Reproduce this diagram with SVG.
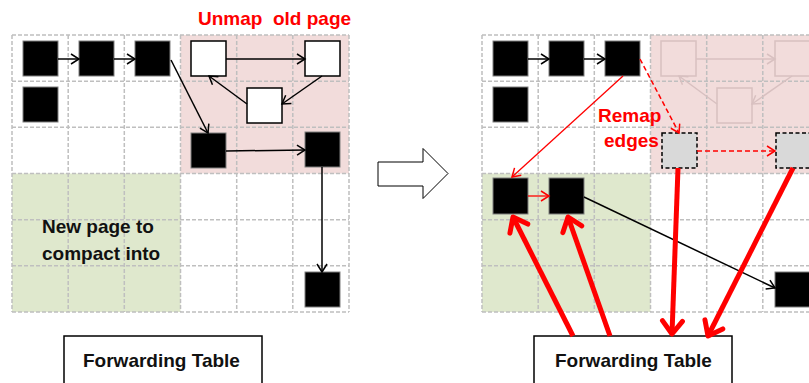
<svg xmlns="http://www.w3.org/2000/svg" width="809" height="383" viewBox="0 0 809 383">
<defs>
<style>
.grid{stroke:#bfbfbf;stroke-width:1.5;stroke-dasharray:4 2;fill:none}
.blk{fill:#000;stroke:#7f7f7f;stroke-width:1}
.wht{fill:#fff;stroke:#000;stroke-width:1.5}
.fad{fill:none;stroke:#d8c0c0;stroke-width:1.5}
.gry{fill:#d9d9d9;stroke:#000;stroke-width:1.5;stroke-dasharray:4 2.5}
.tbl{fill:#fff;stroke:#000;stroke-width:1.5}
.e{fill:none;stroke:#000;stroke-width:1.5}
.ef{fill:none;stroke:#d8c0c0;stroke-width:1.5}
.er{fill:none;stroke:#ff0000;stroke-width:1.3}
.ed{fill:none;stroke:#ff0000;stroke-width:1.5;stroke-dasharray:5 3}
.et{fill:none;stroke:#ff0000;stroke-width:5}
text{font-family:"Liberation Sans",Arial,sans-serif;font-weight:bold;font-size:19px}
.red{fill:#ff0000}
.dk{fill:#111}
</style>
<marker id="ab" markerUnits="userSpaceOnUse" markerWidth="14" markerHeight="14" refX="9" refY="6" orient="auto"><path d="M1,1 L9,6 L1,11" fill="none" stroke="#000" stroke-width="1.5"/></marker>
<marker id="af" markerUnits="userSpaceOnUse" markerWidth="14" markerHeight="14" refX="9" refY="6" orient="auto"><path d="M1,1 L9,6 L1,11" fill="none" stroke="#d8c0c0" stroke-width="1.5"/></marker>
<marker id="ar" markerUnits="userSpaceOnUse" markerWidth="14" markerHeight="14" refX="9" refY="6" orient="auto"><path d="M1,1 L9,6 L1,11" fill="none" stroke="#ff0000" stroke-width="1.5"/></marker>
<marker id="at" markerUnits="userSpaceOnUse" markerWidth="24" markerHeight="26" refX="16" refY="13" orient="auto"><path d="M3,3 L16,13 L3,23" fill="none" stroke="#ff0000" stroke-width="5" stroke-linecap="round" stroke-linejoin="round"/></marker>
</defs>

<g id="left-page">
<rect x="180.5" y="35" width="168.5" height="138.5" fill="#f2dcdb"/>
<rect x="12" y="173.5" width="168.5" height="138.5" fill="#dfe8cd"/>
<path class="grid" d="M12,35V312M68.2,35V312M124.3,35V312M180.5,35V312M236.7,35V312M292.8,35V312M349,35V312M12,35H349M12,81.2H349M12,127.3H349M12,173.5H349M12,219.7H349M12,265.8H349M12,312H349"/>
</g>
<g id="right-page">
<rect x="650.5" y="35" width="168.5" height="138.5" fill="#f2dcdb"/>
<rect x="482" y="173.5" width="168.5" height="138.5" fill="#dfe8cd"/>
<path class="grid" d="M482,35V312M538.2,35V312M594.3,35V312M650.5,35V312M706.7,35V312M762.8,35V312M819,35V312M482,35H819M482,81.2H819M482,127.3H819M482,173.5H819M482,219.7H819M482,265.8H819M482,312H819"/>
</g>

<g id="label-unmap"><text class="red" x="198" y="25" style="white-space:pre">Unmap  old page</text></g>
<g id="label-newpage"><text class="dk" x="42" y="233">New page to</text><text class="dk" x="42" y="260">compact into</text></g>
<g id="label-remap"><text class="red" x="598" y="122">Remap</text><text class="red" x="604" y="147">edges</text></g>

<g id="L-a"><rect class="blk" x="23" y="41" width="35" height="35"/></g>
<g id="L-b"><rect class="blk" x="79" y="41" width="35" height="35"/></g>
<g id="L-c"><rect class="blk" x="135" y="41" width="35" height="35"/></g>
<g id="L-d"><rect class="blk" x="23" y="87" width="35" height="35"/></g>
<g id="L-w1"><rect class="wht" x="191" y="41" width="35" height="35"/></g>
<g id="L-w2"><rect class="wht" x="305" y="41" width="35" height="35"/></g>
<g id="L-w3"><rect class="wht" x="247" y="88" width="35" height="35"/></g>
<g id="L-e"><rect class="blk" x="191" y="133" width="35" height="35"/></g>
<g id="L-f"><rect class="blk" x="305" y="132" width="35" height="35"/></g>
<g id="L-g"><rect class="blk" x="305" y="272" width="35" height="35"/></g>

<g id="R-a"><rect class="blk" x="493" y="41" width="35" height="35"/></g>
<g id="R-b"><rect class="blk" x="549" y="41" width="35" height="35"/></g>
<g id="R-c"><rect class="blk" x="605" y="41" width="35" height="35"/></g>
<g id="R-d"><rect class="blk" x="493" y="87" width="35" height="35"/></g>
<g id="R-w1"><rect class="fad" x="661" y="41" width="35" height="35"/></g>
<g id="R-w2"><rect class="fad" x="775" y="41" width="35" height="35"/></g>
<g id="R-w3"><rect class="fad" x="717" y="88" width="35" height="35"/></g>
<g id="R-h1"><rect class="gry" x="662" y="133" width="35" height="35"/></g>
<g id="R-h2"><rect class="gry" x="776" y="133" width="35" height="35"/></g>
<g id="R-n1"><rect class="blk" x="493" y="178" width="35" height="36"/></g>
<g id="R-n2"><rect class="blk" x="549" y="178" width="35" height="36"/></g>
<g id="R-g"><rect class="blk" x="775" y="272" width="35" height="35"/></g>

<g id="transition-arrow"><polygon points="378,162 423,162 423,148.5 448,173.5 423,198.5 423,186 378,186" fill="#fff" stroke="#000" stroke-width="1"/></g>

<g id="L-table"><rect class="tbl" x="64" y="336" width="198" height="60"/><text class="dk" x="83" y="367">Forwarding Table</text></g>
<g id="R-table"><rect class="tbl" x="534" y="336" width="198" height="60"/><text class="dk" x="555" y="367">Forwarding Table</text></g>

<g id="connectors">
<path class="e" marker-end="url(#ab)" d="M58,59H79"/>
<path class="e" marker-end="url(#ab)" d="M114,59H135"/>
<path class="e" marker-end="url(#ab)" d="M171,60L208,133"/>
<path class="e" marker-end="url(#ab)" d="M226,59H305"/>
<path class="e" marker-end="url(#ab)" d="M322,76L282,104"/>
<path class="e" marker-end="url(#ab)" d="M247,104L209,76"/>
<path class="e" marker-end="url(#ab)" d="M226,151L305,150"/>
<path class="e" marker-end="url(#ab)" d="M322,167V272"/>

<path class="e" marker-end="url(#ab)" d="M528,59H549"/>
<path class="e" marker-end="url(#ab)" d="M584,59H605"/>
<path class="ef" marker-end="url(#af)" d="M696,59H775"/>
<path class="ef" marker-end="url(#af)" d="M792,76L752,104"/>
<path class="ef" marker-end="url(#af)" d="M717,104L679,76"/>
<path class="er" marker-end="url(#ar)" d="M623,76L512,177"/>
<path class="ed" marker-end="url(#ar)" d="M640,59L679,133"/>
<path class="ed" marker-end="url(#ar)" d="M697,151H775"/>
<path class="er" marker-end="url(#ar)" d="M528,196H549"/>
<path class="e" marker-end="url(#ab)" d="M584,197L775,288"/>
<path class="et" marker-end="url(#at)" d="M573,336L513,217"/>
<path class="et" marker-end="url(#at)" d="M610,336L568,217"/>
<path class="et" marker-end="url(#at)" d="M678,168L672,334"/>
<path class="et" marker-end="url(#at)" d="M793,168L708,336"/>
</g>
</svg>
